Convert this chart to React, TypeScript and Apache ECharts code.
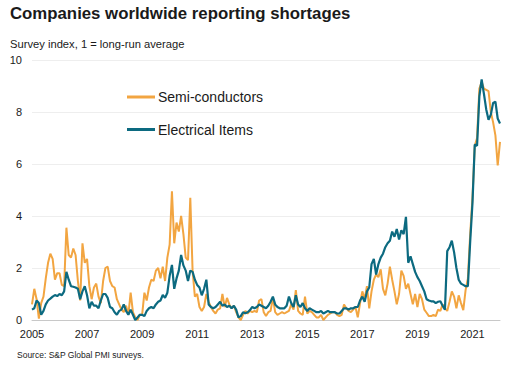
import React, { useEffect, useRef } from "react";
import * as echarts from "echarts";

const startYear = 2005;
const endYear = 2022; // last point: Jan 2022
const tickYears = ["2005", "2007", "2009", "2011", "2013", "2015", "2017", "2019", "2021"];
const yTicks = [0, 2, 4, 6, 8, 10];

// Semi-conductors, monthly, Jan 2005 - Jan 2022
const semiconductors = [
  0.6, 1.2, 0.8, 0.05, 0.65, 0.9, 1.6, 2.2, 2.55, 2.35, 1.55, 1.8, // 2005
  1.8, 1.35, 1.3, 3.55, 2.5, 2.4, 2.75, 2.5, 1.5, 0.75, 2.95, 2.2, // 2006
  2.35, 1.3, 0.8, 1.25, 1.4, 0.9, 0.65, 1.5, 2.0, 2.05, 1.5, 1.3, // 2007
  1.25, 0.8, 0.6, 0.4, 0.3, 0.55, 0.2, 1.05, 0.3, 0.1, 0.0, 0.2, // 2008
  0.2, 1.05, 0.75, 1.25, 1.55, 1.5, 1.9, 2.0, 1.6, 2.05, 1.5, 2.4, // 2009
  2.9, 4.95, 2.95, 3.75, 3.4, 4.0, 3.3, 2.4, 2.3, 4.7, 1.9, 0.9, // 2010
  1.0, 0.5, 0.35, 0.5, 1.0, 0.7, 0.5, 0.35, 0.25, 0.4, 0.45, 1.0, // 2011
  0.5, 0.85, 0.6, 0.45, 0.55, 0.3, 0.1, 0.0, 0.2, 0.35, 0.25, 0.35, // 2012
  0.3, 0.35, 0.3, 0.75, 0.8, 0.3, 0.15, 0.3, 0.35, 0.85, 0.3, 0.2, // 2013
  0.25, 0.3, 0.25, 0.3, 0.35, 0.6, 0.4, 1.15, 0.35, 0.25, 0.2, 0.9, // 2014
  0.25, 0.35, 0.3, 0.2, 0.1, 0.1, 0.2, 0.0, 0.1, 0.2, 0.25, 0.3, // 2015
  0.3, 0.2, 0.15, 0.2, 0.6, 0.45, 0.35, 0.3, 0.4, 0.5, 0.1, 0.65, // 2016
  1.1, 0.8, 1.3, 0.45, 1.1, 1.55, 1.75, 1.65, 1.95, 1.2, 0.95, 1.4, // 2017
  2.05, 1.55, 1.1, 0.6, 1.0, 1.9, 1.7, 1.2, 1.4, 1.0, 0.6, 1.0, // 2018
  0.5, 1.0, 0.8, 0.4, 0.28, 0.15, 0.15, 0.2, 0.15, 0.4, 0.35, 0.6, // 2019
  0.45, 0.35, 0.7, 1.1, 0.9, 0.45, 0.95, 0.65, 0.38, 1.15, 1.6, 3.3, // 2020
  4.7, 6.7, 7.0, 8.9, 9.15, 8.9, 8.85, 8.8, 8.0, 7.6, 7.1, 5.95, // 2021
  6.85, // 2022
];

// Electrical items, monthly, Jan 2005 - Jan 2022
const electricalItems = [
  0.4, 0.45, 0.75, 0.65, 0.2, 0.35, 0.6, 0.75, 0.82, 0.9, 0.96, 0.92, // 2005
  1.0, 0.95, 1.1, 1.85, 1.55, 1.3, 1.28, 1.25, 1.2, 0.8, 1.1, 1.3, // 2006
  0.95, 0.45, 0.7, 0.55, 0.55, 0.45, 0.75, 1.0, 1.0, 0.85, 0.5, 0.45, // 2007
  0.3, 0.2, 0.35, 0.4, 0.6, 0.35, 0.2, 0.4, 0.2, 0.0, 0.1, 0.2, // 2008
  0.2, 0.15, 0.35, 0.45, 0.5, 0.45, 0.6, 0.7, 0.75, 0.96, 0.85, 1.05, // 2009
  1.7, 2.12, 1.2, 1.6, 1.9, 2.5, 2.1, 1.9, 1.5, 1.9, 1.85, 1.55, // 2010
  1.35, 1.25, 0.95, 1.2, 1.55, 0.6, 0.5, 0.45, 0.5, 0.6, 0.7, 0.55, // 2011
  0.6, 0.5, 0.55, 0.45, 0.55, 0.4, 0.1, 0.15, 0.3, 0.26, 0.3, 0.38, // 2012
  0.5, 0.45, 0.5, 0.6, 0.55, 0.5, 0.45, 0.55, 0.7, 0.9, 0.6, 0.5, // 2013
  0.45, 0.45, 0.45, 0.55, 0.9, 0.65, 0.5, 0.95, 0.6, 0.5, 0.65, 0.45, // 2014
  0.35, 0.45, 0.4, 0.35, 0.3, 0.3, 0.35, 0.25, 0.3, 0.35, 0.3, 0.3, // 2015
  0.3, 0.25, 0.25, 0.35, 0.45, 0.45, 0.4, 0.45, 0.45, 0.5, 0.5, 0.75, // 2016
  0.9, 0.7, 1.1, 1.25, 2.15, 2.35, 1.75, 2.15, 2.4, 2.55, 2.8, 2.95, // 2017
  3.05, 3.4, 3.2, 3.5, 3.1, 3.45, 3.3, 3.97, 2.2, 2.45, 2.15, 1.85, // 2018
  1.65, 1.5, 1.3, 1.1, 0.8, 0.75, 0.72, 0.72, 0.65, 0.7, 0.72, 0.55, // 2019
  0.4, 2.65, 2.8, 3.05, 2.6, 2.0, 1.55, 1.4, 1.35, 1.3, 1.3, 3.0, // 2020
  4.5, 6.75, 6.7, 8.6, 9.25, 8.7, 8.1, 7.7, 7.9, 8.35, 8.4, 7.75, // 2021
  7.56, // 2022
];

const months: string[] = [];
for (let y = startYear; y <= endYear; y++) {
  for (let m = 1; m <= 12; m++) {
    if (y === endYear && m > 1) break;
    months.push(`${y}-${String(m).padStart(2, "0")}`);
  }
}

const FONT = "'Liberation Sans', Arial, sans-serif";
const ORANGE = "#f2a541";
const TEAL = "#0c6a80";

export default function App() {
  const ref = useRef<HTMLDivElement>(null);
  useEffect(() => {
    document.body.style.margin = "0";
    const chart = echarts.init(ref.current!, null, { renderer: "svg" });
    chart.setOption({
      animation: false,
      backgroundColor: "#ffffff",
      textStyle: { fontFamily: FONT },
      title: [
        {
          text: "Companies worldwide reporting shortages",
          left: 10,
          top: 5,
          padding: 0,
          textStyle: { fontSize: 16.8, fontWeight: "bold", color: "#1a1a1a", fontFamily: FONT },
        },
        {
          text: "Survey index, 1 = long-run average",
          left: 10,
          top: 38,
          padding: 0,
          textStyle: { fontSize: 11.2, fontWeight: "normal", color: "#1a1a1a", fontFamily: FONT },
        },
        {
          text: "Source: S&P Global PMI surveys.",
          left: 17,
          top: 350,
          padding: 0,
          textStyle: { fontSize: 8.5, fontWeight: "normal", color: "#1a1a1a", fontFamily: FONT },
        },
      ],
      legend: {
        orient: "vertical",
        left: 127,
        top: 90,
        padding: 0,
        itemWidth: 28,
        itemHeight: 3,
        itemGap: 18.5,
        icon: "rect",
        textStyle: { fontSize: 14, color: "#1a1a1a", fontFamily: FONT, padding: [0, 0, 0, -2] },
        data: ["Semi-conductors", "Electrical Items"],
      },
      grid: { left: 32, right: 12, top: 60, bottom: 50, containLabel: false },
      xAxis: {
        type: "category",
        data: months,
        boundaryGap: false,
        axisLine: { show: true, lineStyle: { color: "#c8c8c8", width: 1 } },
        axisTick: { show: false },
        axisLabel: {
          interval: (index: number, value: string) => tickYears.includes(value.slice(0, 4)) && value.endsWith("-01"),
          formatter: (value: string) => value.slice(0, 4),
          fontSize: 11,
          color: "#1a1a1a",
          margin: 8,
          fontFamily: FONT,
        },
        splitLine: { show: false },
      },
      yAxis: {
        type: "value",
        min: yTicks[0],
        max: yTicks[yTicks.length - 1],
        interval: 2,
        axisLine: { show: false },
        axisTick: { show: false },
        axisLabel: { fontSize: 11, color: "#1a1a1a", margin: 10, fontFamily: FONT },
        splitLine: { show: true, lineStyle: { color: "#eeeeee", width: 1 } },
      },
      series: [
        {
          name: "Semi-conductors",
          type: "line",
          data: semiconductors,
          showSymbol: false,
          symbol: "none",
          lineStyle: { color: ORANGE, width: 2 },
          itemStyle: { color: ORANGE },
          z: 2,
        },
        {
          name: "Electrical Items",
          type: "line",
          data: electricalItems,
          showSymbol: false,
          symbol: "none",
          lineStyle: { color: TEAL, width: 2.2 },
          itemStyle: { color: TEAL },
          z: 3,
        },
      ],
    });
    return () => chart.dispose();
  }, []);
  return <div ref={ref} style={{ width: 512, height: 370 }} />;
}
